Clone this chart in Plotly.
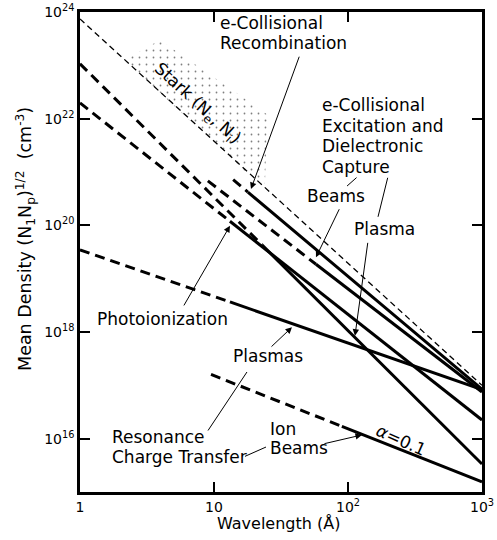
import plotly.graph_objects as go

# ---------------- data (wavelength in Angstrom, density in cm^-3) ----------------
stark_x = [1, 1000]
stark_y = [7.4e23, 1.0e17]

recomb_dash_x = [13.9, 17.9]
recomb_dash_y = [7.2e20, 4.2e20]
recomb_x = [17.9, 1000]
recomb_y = [4.2e20, 8.5e16]

beams_dash_x = [9.0, 57.7]
beams_dash_y = [6.8e20, 1.86e19]
beams_x = [57.7, 1000]
beams_y = [1.86e19, 7.5e16]

excplasma_dash_x = [1, 22.8]
excplasma_dash_y = [1.07e23, 4.3e19]
excplasma_x = [22.8, 1000]
excplasma_y = [4.3e19, 3.35e15]

photo_dash_x = [1, 13.15]
photo_dash_y = [1.97e22, 1.19e20]
photo_x = [13.15, 1000]
photo_y = [1.19e20, 2.24e16]

rct_plasma_dash_x = [1, 13.15]
rct_plasma_dash_y = [3.47e19, 3.66e18]
rct_plasma_x = [13.15, 1000]
rct_plasma_y = [3.66e18, 8.3e16]

ionbeam_dash_x = [9.5, 90]
ionbeam_dash_y = [1.6e17, 1.7e16]
ionbeam_x = [90, 1000]
ionbeam_y = [1.7e16, 1.55e15]

stark_region_x = [2.17, 3.95, 25.0, 24.0, 17.0]
stark_region_y = [1.26e23, 2.99e23, 1.2e22, 6.0e20, 1.0e21]

x_tickvals = [1, 10, 100, 1000]
x_ticktext = ["1", "10", "10<sup>2</sup>", "10<sup>3</sup>"]
y_tickvals = [1e16, 1e18, 1e20, 1e22, 1e24]
y_ticktext = ["10<sup>16</sup>", "10<sup>18</sup>", "10<sup>20</sup>", "10<sup>22</sup>", "10<sup>24</sup>"]

FONT = "DejaVu Sans"
LBL = 17
THICK = 3
DASH = "10px,6px"

fig = go.Figure()

# stippled Stark region
fig.add_trace(go.Scatter(
    x=stark_region_x + [stark_region_x[0]], y=stark_region_y + [stark_region_y[0]],
    mode="lines", fill="toself", line=dict(width=0, color="rgba(0,0,0,0)"),
    fillcolor="rgba(0,0,0,0)",
    fillpattern=dict(shape=".", size=7, solidity=0.05, fgcolor="black", bgcolor="rgba(0,0,0,0)"),
    hoverinfo="skip", showlegend=False))

def seg(x, y, dash=None, width=THICK):
    fig.add_trace(go.Scatter(x=x, y=y, mode="lines",
                             line=dict(color="black", width=width, dash=dash or "solid"),
                             showlegend=False, hoverinfo="skip"))

seg(stark_x, stark_y, dash="6px,4px", width=1.3)
seg(recomb_dash_x, recomb_dash_y, DASH)
seg(recomb_x, recomb_y)
seg(beams_dash_x, beams_dash_y, DASH)
seg(beams_x, beams_y)
seg(excplasma_dash_x, excplasma_dash_y, DASH)
seg(excplasma_x, excplasma_y)
seg(photo_dash_x, photo_dash_y, DASH)
seg(photo_x, photo_y)
seg(rct_plasma_dash_x, rct_plasma_dash_y, DASH)
seg(rct_plasma_x, rct_plasma_y)
seg(ionbeam_dash_x, ionbeam_dash_y, DASH)
seg(ionbeam_x, ionbeam_y)

annotations = []

def label(text, lx, ly, xanchor="center", angle=0, size=LBL):
    annotations.append(dict(text=text, x=lx, y=ly, xref="x", yref="y", showarrow=False,
                            xanchor=xanchor, yanchor="middle", textangle=angle,
                            font=dict(family=FONT, size=size, color="black")))

def arrow(tx, ty, hx, hy, head=2):
    annotations.append(dict(text="", x=hx, y=hy, ax=tx, ay=ty, xref="x", yref="y",
                            axref="x", ayref="y", showarrow=True, arrowhead=head,
                            arrowsize=1.3, arrowwidth=1, arrowcolor="black", standoff=0))

# labels (positions in log10 units of the axes)
label("e-Collisional", 1.030, 23.80, "left")
label("Recombination", 1.030, 23.42, "left")
label("e-Collisional", 1.791, 22.26, "left")
label("Excitation and", 1.791, 21.87, "left")
label("Dielectronic", 1.791, 21.48, "left")
label("Capture", 1.791, 21.09, "left")
label("Beams", 1.910, 20.55)
label("Plasma", 2.276, 19.93)
label("Photoionization", 0.619, 18.24)
label("Plasmas", 1.403, 17.55)
label("Resonance", 0.224, 16.03, "left")
label("Charge Transfer", 0.224, 15.65, "left")
label("Ion", 1.403, 16.19, "left")
label("Beams", 1.403, 15.82, "left")
label("<i>α</i>=0.1", 2.396, 15.98, angle=24)
label("Stark (N<sub>e</sub>, N<sub>i</sub>)", 0.87, 22.28, angle=42.5)

# arrows and connectors
arrow(1.64, 23.19, 1.276, 20.68)
arrow(2.075, 20.92, 1.993, 20.737, head=0)
arrow(1.940, 20.33, 1.761, 19.40)
arrow(2.299, 20.92, 2.224, 20.16, head=0)
arrow(2.149, 19.70, 2.052, 17.93)
arrow(0.769, 18.47, 1.119, 19.99)
arrow(0.948, 16.125, 1.246, 17.25, head=0)
arrow(1.418, 17.70, 1.582, 18.09)
arrow(1.813, 15.90, 2.104, 16.07)
arrow(1.220, 15.656, 1.388, 15.843, head=0)

# axis titles
annotations.append(dict(text="Wavelength (Å)", x=0.495, y=-0.065, xref="paper", yref="paper",
                        showarrow=False, xanchor="center", yanchor="middle",
                        font=dict(family=FONT, size=16, color="black")))
annotations.append(dict(text="Mean Density (N<sub>1</sub>N<sub>p</sub>)<sup>1/2</sup>  (cm<sup>-3</sup>)",
                        x=-0.137, y=0.527, xref="paper", yref="paper", textangle=-90,
                        showarrow=False, xanchor="center", yanchor="middle",
                        font=dict(family=FONT, size=17.5, color="black")))

fig.update_layout(
    width=497, height=540,
    margin=dict(l=80, r=15, t=12, b=48, autoexpand=False),
    paper_bgcolor="white", plot_bgcolor="white",
    showlegend=False,
    annotations=annotations,
    font=dict(family=FONT, size=14, color="black"),
    xaxis=dict(type="log", range=[0, 3], tickvals=x_tickvals, ticktext=x_ticktext,
               ticks="inside", ticklen=10, tickwidth=1.5, tickcolor="black", automargin=False,
               showline=True, linewidth=2.5, linecolor="black", mirror="ticks",
               showgrid=False, zeroline=False, tickfont=dict(family=FONT, size=14)),
    yaxis=dict(type="log", range=[15, 24], tickvals=y_tickvals, ticktext=y_ticktext,
               ticks="inside", ticklen=10, tickwidth=1.5, tickcolor="black", automargin=False,
               showline=True, linewidth=2.5, linecolor="black", mirror="ticks",
               showgrid=False, zeroline=False, tickfont=dict(family=FONT, size=14)),
)

fig.write_html("out.html")
